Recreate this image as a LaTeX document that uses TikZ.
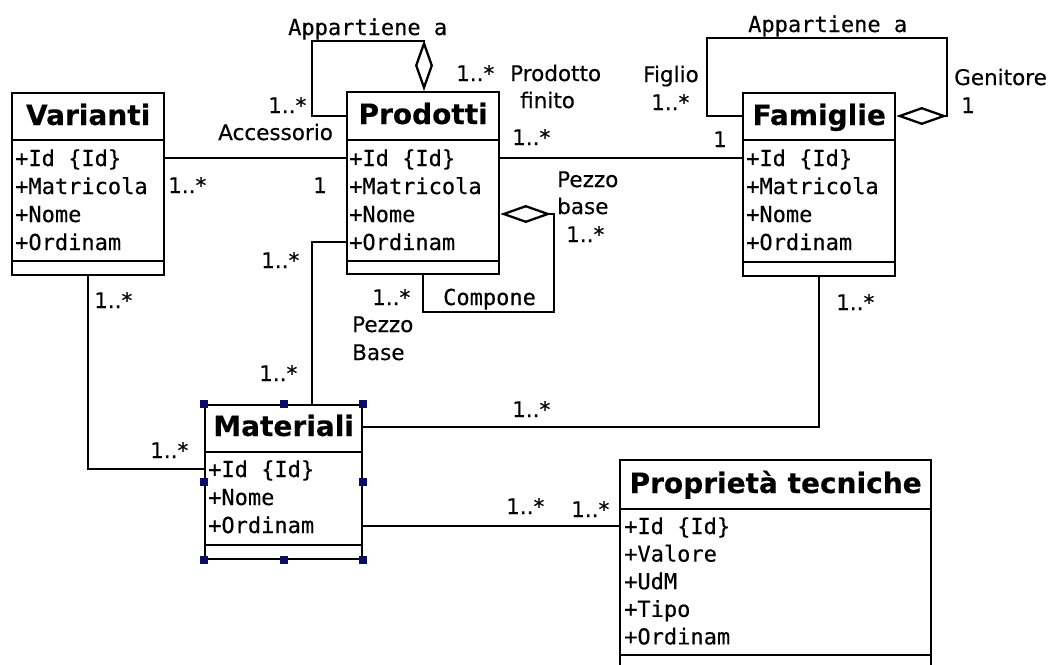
\documentclass[tikz,border=0pt]{standalone}
\usepackage{fontspec}
\setmainfont{DejaVu Sans}[FakeBold=0.3]
\newfontfamily\umlmono{DejaVu Sans Mono}[FakeBold=0.3]
\usetikzlibrary{arrows.meta}
\definecolor{handleblue}{RGB}{12,12,100}

\begin{document}
\begin{tikzpicture}[x=1pt,y=-1pt,
  cls/.style={draw, line width=2.3pt, fill=white, inner sep=0pt, anchor=north west},
  sep/.style={line width=2.3pt},
  ttl/.style={font=\fontsize{28}{32}\selectfont\bfseries, inner sep=0pt, anchor=base},
  attr/.style={font=\umlmono\fontsize{22}{28}\selectfont, inner sep=0pt, anchor=base west},
  lbl/.style={font=\fontsize{21.5}{26}\selectfont, inner sep=0pt, anchor=base west},
  mlbl/.style={font=\umlmono\fontsize{22}{28}\selectfont, inner sep=0pt, anchor=base west},
  conn/.style={line width=2.3pt},
  agg/.style={conn, -{Diamond[open, length=51pt, width=18pt]}},
  handle/.style={fill=handleblue, inner sep=0pt, minimum size=8pt},
]
\useasboundingbox (0,0) rectangle (1054,664);

% ---- classes ----
% Varianti
\node[cls, minimum width=152pt, minimum height=182pt] (var) at (11,92) {};
\draw[sep] ([yshift=-48pt]var.north west) -- ([yshift=-48pt]var.north east);
\draw[sep] ([yshift=15pt]var.south west) -- ([yshift=15pt]var.south east);
\node[ttl] (var-t) at ([yshift=-33pt]var.north) {Varianti};
\foreach \txt [count=\i] in {{+Id \{Id\}},+Matricola,+Nome,+Ordinam}
  \node[attr] (var-a\i) at ([xshift=4pt,yshift={-74pt-28pt*(\i-1)}]var.north west) {\txt};

% Prodotti
\node[cls, minimum width=152pt, minimum height=182pt] (prod) at (346,91) {};
\draw[sep] ([yshift=-49pt]prod.north west) -- ([yshift=-49pt]prod.north east);
\draw[sep] ([yshift=14pt]prod.south west) -- ([yshift=14pt]prod.south east);
\node[ttl] (prod-t) at ([yshift=-33pt]prod.north) {Prodotti};
\foreach \txt [count=\i] in {{+Id \{Id\}},+Matricola,+Nome,+Ordinam}
  \node[attr] (prod-a\i) at ([xshift=3pt,yshift={-75pt-28pt*(\i-1)}]prod.north west) {\txt};

% Famiglie
\node[cls, minimum width=152pt, minimum height=183pt] (fam) at (742,92) {};
\draw[sep] ([yshift=-48pt]fam.north west) -- ([yshift=-48pt]fam.north east);
\draw[sep] ([yshift=15pt]fam.south west) -- ([yshift=15pt]fam.south east);
\node[ttl] (fam-t) at ([yshift=-33pt]fam.north) {Famiglie};
\foreach \txt [count=\i] in {{+Id \{Id\}},+Matricola,+Nome,+Ordinam}
  \node[attr] (fam-a\i) at ([xshift=4pt,yshift={-74pt-28pt*(\i-1)}]fam.north west) {\txt};

% Materiali
\node[cls, minimum width=157pt, minimum height=154pt] (mat) at (204,404) {};
\draw[sep] ([yshift=-48pt]mat.north west) -- ([yshift=-48pt]mat.north east);
\draw[sep] ([yshift=15pt]mat.south west) -- ([yshift=15pt]mat.south east);
\node[ttl] (mat-t) at ([yshift=-32pt]mat.north) {Materiali};
\foreach \txt [count=\i] in {{+Id \{Id\}},+Nome,+Ordinam}
  \node[attr] (mat-a\i) at ([xshift=4pt,yshift={-73pt-28pt*(\i-1)}]mat.north west) {\txt};

% Proprietà tecniche
\node[cls, minimum width=311pt, minimum height=213pt] (prop) at (619,459) {};
\draw[sep] ([yshift=-50pt]prop.north west) -- ([yshift=-50pt]prop.north east);
\draw[sep] ([yshift=-196pt]prop.north west) -- ([yshift=-196pt]prop.north east);
\node[ttl] (prop-t) at ([yshift=-34pt]prop.north) {Proprietà tecniche};
\foreach \txt [count=\i] in {{+Id \{Id\}},+Valore,+UdM,+Tipo,+Ordinam}
  \node[attr] (prop-a\i) at ([xshift=5pt,yshift={-75pt-27.6pt*(\i-1)}]prop.north west) {\txt};

% ---- connector bend points ----
\coordinate (vp)   at (0,158);
\coordinate (accL) at (312,116);
\coordinate (accT) at (424,41);
\coordinate (cmpB) at (423,312);
\coordinate (cmpR) at (554,214);
\coordinate (pm)   at (312,242);
\coordinate (vm)   at (87,469);
\coordinate (fm)   at (0,427);
\coordinate (mp)   at (0,526);
\coordinate (famL) at (707,38);
\coordinate (famR) at (947,116);

% ---- associations ----
\draw[conn] (var.east |- vp) -- (prod.west |- vp);
\draw[conn] (prod.east |- vp) -- (fam.west |- vp);
\draw[agg] (prod.west |- accL) -- (accL) |- (accT) -- (prod.north -| accT);
\draw[agg] (prod.south -| cmpB) -- (cmpB) -| (cmpR) -- (prod.east |- cmpR);
\draw[conn] (prod.west |- pm) -- (pm) -- (mat.north -| pm);
\draw[conn] (var.south) |- (mat.west |- vm);
\draw[conn] (fam.south) |- (mat.east |- fm);
\draw[conn] (mat.east |- mp) -- (prop.west |- mp);
\draw[agg] (fam.west |- famR) -| (famL) -| (famR) -- (fam.east |- famR);

% ---- selection handles on Materiali ----
\foreach \a [count=\i] in {north west,north,north east,west,east,south west,south,south east}
  \node[handle] (mat-h\i) at (mat.\a) {};

% ---- association labels ----
\node[mlbl] (l-app1)  at (288,35)  {Appartiene a};
\node[lbl]  (l-m1)    at (268,113) {1..*};
\node[lbl]  (l-acc)   at (218,140) {Accessorio};
\node[lbl]  (l-m2)    at (168,193) {1..*};
\node[lbl]  (l-o1)    at (313,193) {1};
\node[lbl]  (l-m3)    at (261,268) {1..*};
\node[lbl]  (l-m4)    at (456,81)  {1..*};
\node[lbl]  (l-prd)   at (510,81)  {Prodotto};
\node[lbl]  (l-fin)   at (520,108) {finito};
\node[lbl]  (l-m5)    at (512,145) {1..*};
\node[lbl]  (l-pz1)   at (557,187) {Pezzo};
\node[lbl]  (l-bs1)   at (557,214) {base};
\node[lbl]  (l-m6)    at (566,242) {1..*};
\node[lbl]  (l-m7)    at (372,305) {1..*};
\node[mlbl] (l-cmp)   at (443,305) {Compone};
\node[lbl]  (l-pz2)   at (352,332) {Pezzo};
\node[lbl]  (l-bs2)   at (352,360) {Base};
\node[mlbl] (l-app2)  at (748,32)  {Appartiene a};
\node[lbl]  (l-fig)   at (643,82)  {Figlio};
\node[lbl]  (l-m8)    at (651,110) {1..*};
\node[lbl]  (l-o2)    at (713,147) {1};
\node[lbl]  (l-gen)   at (954,85)  {Genitore};
\node[lbl]  (l-o3)    at (961,113) {1};
\node[lbl]  (l-m9)    at (94,308)  {1..*};
\node[lbl]  (l-m10)   at (259,381) {1..*};
\node[lbl]  (l-m11)   at (150,458) {1..*};
\node[lbl]  (l-m12)   at (512,417) {1..*};
\node[lbl]  (l-m13)   at (836,310) {1..*};
\node[lbl]  (l-m14)   at (506,514) {1..*};
\node[lbl]  (l-m15)   at (571,517) {1..*};
\end{tikzpicture}
\end{document}
